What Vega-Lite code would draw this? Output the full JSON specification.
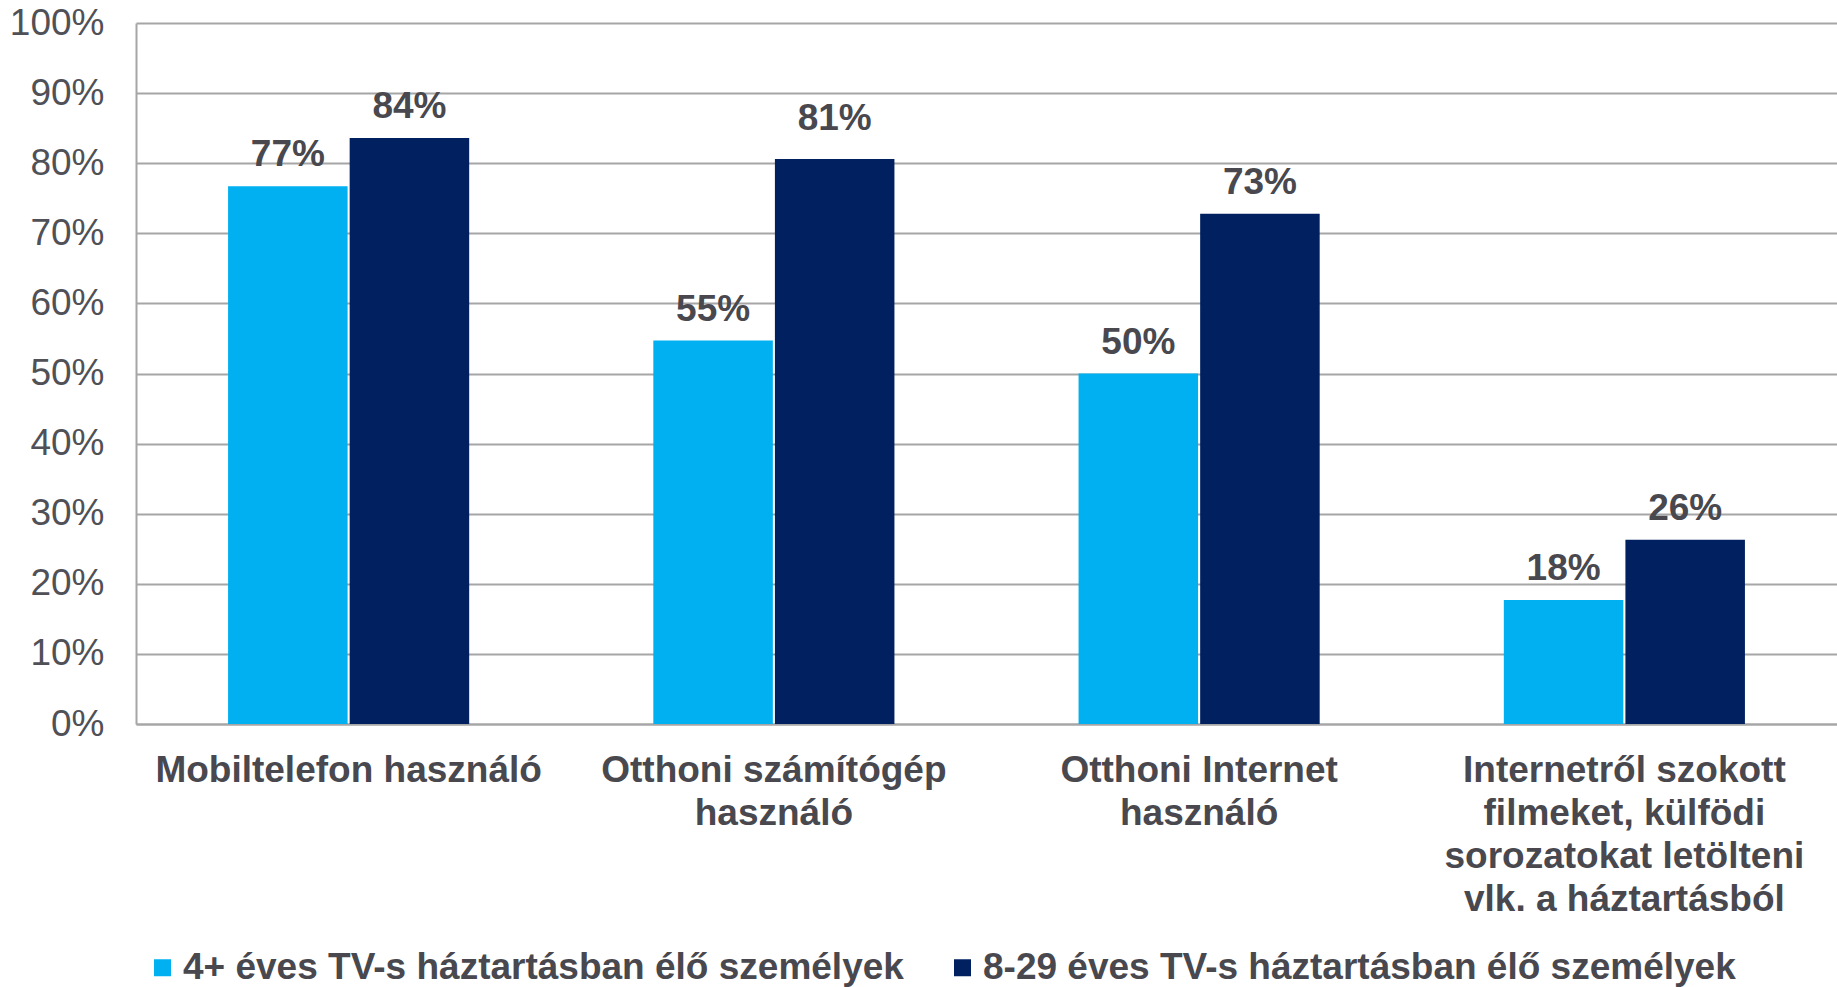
{
  "$schema": "https://vega.github.io/schema/vega-lite/v6.json",
  "autosize": {"type": "none"},
  "padding": {"left": 136, "top": 23, "right": 0, "bottom": 263},
  "width": 1701,
  "height": 701,
  "background": "white",
  "config": {
    "view": {"stroke": null},
    "font": "Liberation Sans"
  },
  "data": {
    "values": [
      {"cat": "Mobiltelefon használó", "group": "4+ éves TV-s háztartásban élő személyek", "value": 0.767},
      {"cat": "Mobiltelefon használó", "group": "8-29 éves TV-s háztartásban élő személyek", "value": 0.836},
      {"cat": "Otthoni számítógép|használó", "group": "4+ éves TV-s háztartásban élő személyek", "value": 0.547},
      {"cat": "Otthoni számítógép|használó", "group": "8-29 éves TV-s háztartásban élő személyek", "value": 0.806},
      {"cat": "Otthoni Internet|használó", "group": "4+ éves TV-s háztartásban élő személyek", "value": 0.500},
      {"cat": "Otthoni Internet|használó", "group": "8-29 éves TV-s háztartásban élő személyek", "value": 0.728},
      {"cat": "Internetről szokott|filmeket, külfödi|sorozatokat letölteni|vlk. a háztartásból", "group": "4+ éves TV-s háztartásban élő személyek", "value": 0.177},
      {"cat": "Internetről szokott|filmeket, külfödi|sorozatokat letölteni|vlk. a háztartásból", "group": "8-29 éves TV-s háztartásban élő személyek", "value": 0.263}
    ]
  },
  "encoding": {
    "x": {
      "field": "cat",
      "type": "nominal",
      "sort": null,
      "title": null,
      "scale": {"paddingInner": 0.433, "paddingOuter": 0.2165},
      "axis": {
        "labelAngle": 0,
        "labelExpr": "split(datum.label, '|')",
        "labelFontSize": 37,
        "labelFontWeight": "bold",
        "labelColor": "#48484e",
        "labelLineHeight": 43,
        "labelPadding": 28,
        "labelLimit": 0,
        "ticks": false,
        "domainColor": "#a6a6a6",
        "domainWidth": 2,
        "grid": false
      }
    },
    "xOffset": {
      "field": "group",
      "type": "nominal",
      "sort": null,
      "scale": {"paddingInner": 0.017, "paddingOuter": 0}
    },
    "y": {
      "field": "value",
      "type": "quantitative",
      "title": null,
      "scale": {"domain": [0, 1], "nice": false},
      "axis": {
        "values": [0, 0.1, 0.2, 0.3, 0.4, 0.5, 0.6, 0.7, 0.8, 0.9, 1],
        "format": ".0%",
        "labelFontSize": 37,
        "labelColor": "#505057",
        "labelPadding": 32,
        "ticks": false,
        "domainColor": "#a6a6a6",
        "domainWidth": 2,
        "gridColor": "#a6a6a6",
        "gridWidth": 2
      }
    }
  },
  "layer": [
    {
      "mark": {"type": "bar"},
      "encoding": {
        "color": {
          "field": "group",
          "type": "nominal",
          "sort": null,
          "scale": {
            "domain": ["4+ éves TV-s háztartásban élő személyek", "8-29 éves TV-s háztartásban élő személyek"],
            "range": ["#00B0F0", "#002060"]
          },
          "legend": {
            "title": null,
            "orient": "none",
            "direction": "horizontal",
            "legendX": 8,
            "legendY": 926,
            "symbolType": "square",
            "symbolSize": 289,
            "symbolStrokeWidth": 0,
            "labelFontSize": 37,
            "labelFontWeight": "bold",
            "labelColor": "#48484e",
            "labelOffset": 2,
            "labelLimit": 0,
            "columnPadding": 40
          }
        }
      }
    },
    {
      "transform": [{"filter": "datum.value < 0.8 || datum.value > 0.82"}],
      "mark": {
        "type": "text",
        "baseline": "alphabetic",
        "dy": -20,
        "fontSize": 37,
        "fontWeight": "bold",
        "color": "#48484e"
      },
      "encoding": {
        "text": {"field": "value", "type": "quantitative", "format": ".0%"}
      }
    },
    {
      "transform": [{"filter": "datum.value >= 0.8 && datum.value <= 0.82"}],
      "mark": {
        "type": "text",
        "baseline": "alphabetic",
        "dy": -29,
        "fontSize": 37,
        "fontWeight": "bold",
        "color": "#48484e"
      },
      "encoding": {
        "text": {"field": "value", "type": "quantitative", "format": ".0%"}
      }
    }
  ]
}
